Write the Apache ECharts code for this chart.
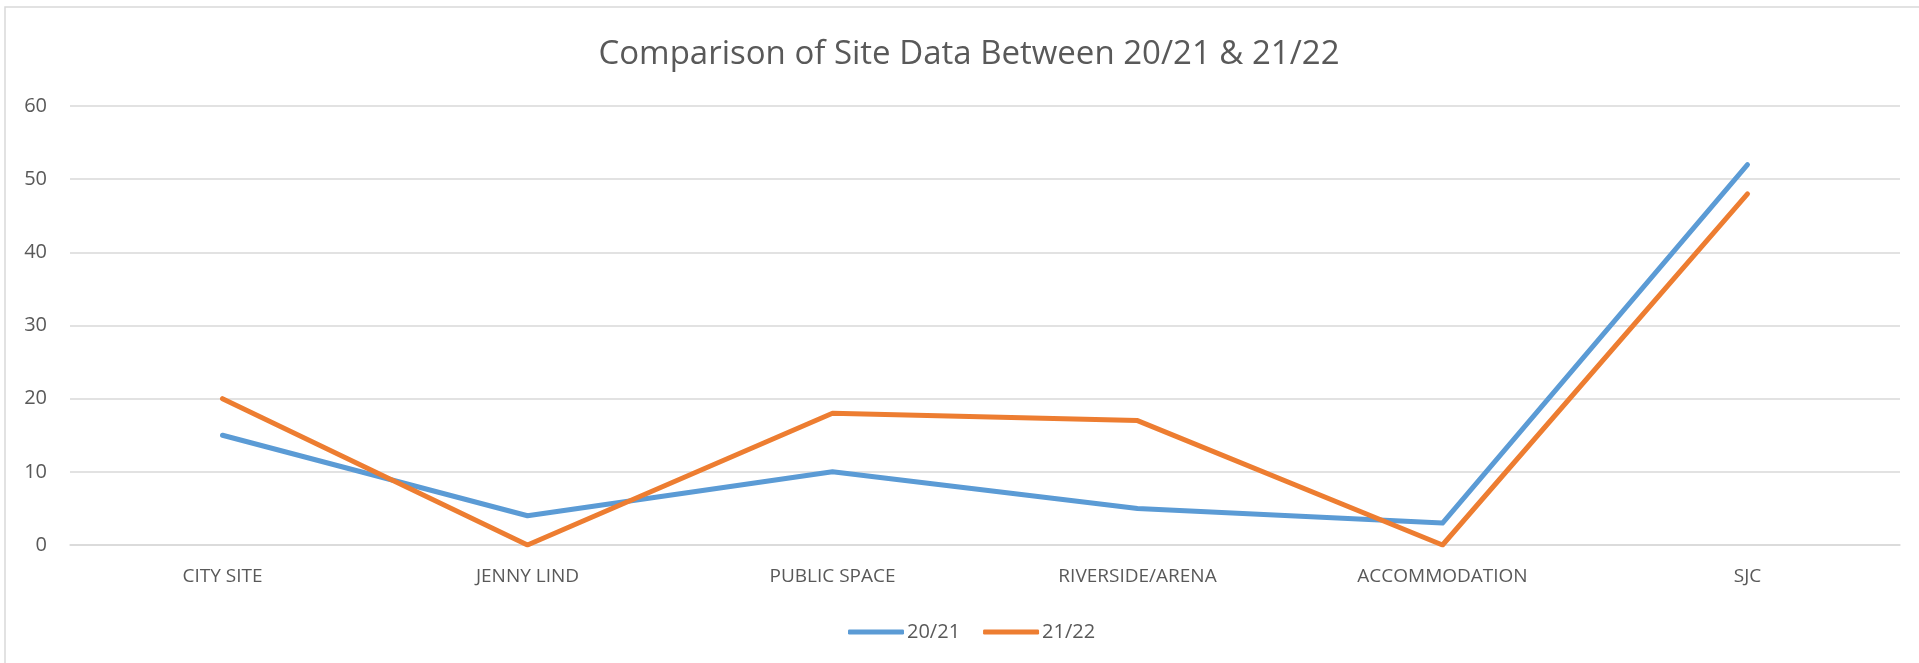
<!DOCTYPE html>
<html>
<head>
    <meta charset="utf-8" />
    <title>Comparison of Site Data</title>
    <script src="https://cdn.jsdelivr.net/npm/echarts@6/dist/echarts.min.js"></script>
    <style>
        html, body { margin: 0; padding: 0; background: #ffffff; }
        #chart { width: 1919px; height: 663px; }
    </style>
</head>
<body>
<div id="chart"></div>
<script type="text/javascript">
    // categories on the x axis
    var sites = ['CITY SITE', 'JENNY LIND', 'PUBLIC SPACE', 'RIVERSIDE/ARENA', 'ACCOMMODATION', 'SJC'];
    // values per season
    var year2021 = [15, 4, 10, 5, 3, 52];
    var year2122 = [20, 0, 18, 17, 0, 48];
    var seriesNames = ['20/21', '21/22'];

    var textColor = '#595959';
    var gridColor = '#d9d9d9';
    var font = '"Open Sans", "Noto Sans", sans-serif';

    var myChart = echarts.init(document.getElementById('chart'));
    var option = {
        backgroundColor: '#ffffff',
        animation: false,
        color: ['#5b9bd5', '#ed7d31'],
        // light frame around the chart area
        graphic: [{
            type: 'rect',
            shape: { x: 5, y: 7, width: 2000, height: 700 },
            style: { fill: 'none', stroke: gridColor, lineWidth: 1.5 },
            silent: true
        }],
        title: {
            text: 'Comparison of Site Data Between 20/21 & 21/22',
            left: 964,
            textAlign: 'center',
            top: 33,
            textStyle: {
                color: textColor,
                fontFamily: font,
                fontSize: 33,
                fontWeight: 'normal'
            }
        },
        legend: {
            data: seriesNames,
            left: 843,
            top: 617,
            itemWidth: 56,
            itemHeight: 5,
            itemGap: 23,
            icon: 'roundRect',
            textStyle: {
                color: textColor,
                fontFamily: font,
                fontSize: 20,
                padding: [0, 0, 0, -2]
            }
        },
        grid: {
            left: 70,
            right: 19,
            top: 106,
            bottom: 118
        },
        xAxis: {
            type: 'category',
            data: sites,
            boundaryGap: true,
            axisLine: { show: true, lineStyle: { color: gridColor, width: 1.5 } },
            axisTick: { show: false },
            axisLabel: {
                color: textColor,
                fontFamily: font,
                fontSize: 19,
                margin: 22
            }
        },
        yAxis: {
            type: 'value',
            min: 0,
            max: 60,
            interval: 10,
            axisLine: { show: false },
            axisTick: { show: false },
            splitLine: { lineStyle: { color: gridColor, width: 1.5 } },
            axisLabel: {
                color: textColor,
                fontFamily: font,
                fontSize: 20,
                margin: 23
            }
        },
        series: [
            {
                name: seriesNames[0],
                type: 'line',
                data: year2021,
                symbol: 'none',
                lineStyle: { width: 5, cap: 'round', join: 'round' }
            },
            {
                name: seriesNames[1],
                type: 'line',
                data: year2122,
                symbol: 'none',
                lineStyle: { width: 5, cap: 'round', join: 'round' }
            }
        ]
    };
    myChart.setOption(option);
</script>
</body>
</html>
